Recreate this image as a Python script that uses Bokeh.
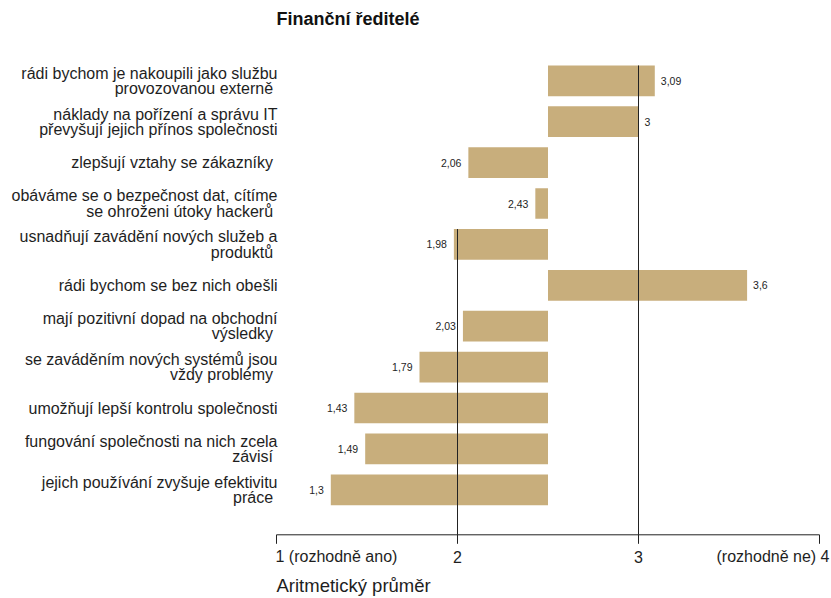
from bokeh.plotting import figure
from bokeh.models import Range1d
from bokeh.core.properties import value
from bokeh.embed import file_html
from bokeh.resources import INLINE

# ---- data ----
title_text = "Finanční ředitelé"
categories = [
    "rádi bychom je nakoupili jako službu\nprovozovanou externě ",
    "náklady na pořízení a správu IT\npřevyšují jejich přínos společnosti",
    "zlepšují vztahy se zákazníky ",
    "obáváme se o bezpečnost dat, cítíme\nse ohroženi útoky hackerů ",
    "usnadňují zavádění nových služeb a\nproduktů ",
    "rádi bychom se bez nich obešli",
    "mají pozitivní dopad na obchodní\nvýsledky ",
    "se zaváděním nových systémů jsou\nvždy problémy ",
    "umožňují lepší kontrolu společnosti",
    "fungování společnosti na nich zcela\nzávisí ",
    "jejich používání zvyšuje efektivitu\npráce ",
]
values = [3.09, 3.0, 2.06, 2.43, 1.98, 3.6, 2.03, 1.79, 1.43, 1.49, 1.3]
midpoint = 2.5
tick_values = [1, 2, 3, 4]
tick_labels = ["1 (rozhodně ano)", "2", "3", "(rozhodně ne) 4"]
axis_title = "Aritmetický průměr"
ref_lines_x = [3, 2]          # vertical reference lines
ref_lines_from = [0, 4]       # category index where each line starts

# ---- layout / style ----
BAR = "#c8ae7c"
TXT = "#1e1e1e"
LINE = "#222222"
FONT = value("Liberation Sans")
W, H = 831, 598
PX = 181.0    # pixels per x unit
PY = 40.9     # pixels per category band
n = len(categories)
ys = [n - 1 - i for i in range(n)]
bar_h = 0.75

# frame spans the whole canvas; ranges chosen so x=1 sits at 276px, first bar at 80px
x_lo = 1 - 276 / PX
x_hi = x_lo + W / PX
y_hi = (n - 1) + 80.3 / PY
y_lo = y_hi - H / PY
y_axis = y_hi - 534.3 / PY
tick_len = 9 / PY

p = figure(width=W, height=H, output_backend="svg", toolbar_location=None,
           x_range=Range1d(x_lo, x_hi), y_range=Range1d(y_lo, y_hi),
           min_border=0, x_axis_location=None, y_axis_location=None)
p.outline_line_color = None
p.xgrid.visible = False
p.ygrid.visible = False
p.background_fill_color = "white"
p.border_fill_color = "white"

# bars
p.hbar(y=ys, left=midpoint, right=values, height=bar_h,
       fill_color=BAR, line_color=None)

# reference lines
p.segment(x0=ref_lines_x, x1=ref_lines_x,
          y0=[ys[i] + bar_h / 2 for i in ref_lines_from],
          y1=[y_axis] * len(ref_lines_x),
          line_color=LINE, line_width=1)

# x axis line and ticks
p.segment(x0=[tick_values[0]], x1=[tick_values[-1]], y0=[y_axis], y1=[y_axis],
          line_color=LINE, line_width=1)
p.segment(x0=tick_values, x1=tick_values, y0=[y_axis] * len(tick_values),
          y1=[y_axis - tick_len] * len(tick_values), line_color=LINE, line_width=1)

# category labels
p.text(x=[tick_values[0]] * n, y=ys, text=categories, x_offset=1,
       text_align="right", text_baseline="middle", text_font=FONT,
       text_font_size="16px", text_color=TXT, text_line_height=0.9)

# value labels
fmt = lambda v: f"{v:g}".replace(".", ",")
pos = [(v, y) for v, y in zip(values, ys) if v >= midpoint]
neg = [(v, y) for v, y in zip(values, ys) if v < midpoint]
p.text(x=[v for v, _ in pos], y=[y for _, y in pos], text=[fmt(v) for v, _ in pos],
       x_offset=6, text_align="left", text_baseline="middle",
       text_font=FONT, text_font_size="10.5px", text_color=TXT)
p.text(x=[v for v, _ in neg], y=[y for _, y in neg], text=[fmt(v) for v, _ in neg],
       x_offset=-7, text_align="right", text_baseline="middle",
       text_font=FONT, text_font_size="10.5px", text_color=TXT)

# tick labels
tick_y = y_hi - 556 / PY
aligns = ["left"] + ["center"] * (len(tick_values) - 2) + ["right"]
offsets = [-1] + [0] * (len(tick_values) - 2) + [10]
p.text(x=tick_values, y=[tick_y] * len(tick_values), text=tick_labels,
       x_offset=offsets, text_align=aligns, text_baseline="middle",
       text_font=FONT, text_font_size="16px", text_color=TXT)

# axis title
p.text(x=[tick_values[0]], y=[y_hi - 585 / PY], text=[axis_title],
       text_align="left", text_baseline="middle", text_font=FONT,
       text_font_size="18.5px", text_color=TXT)

# chart title
p.text(x=[tick_values[0]], y=[y_hi - 18 / PY], text=[title_text],
       text_align="left", text_baseline="middle", text_font=FONT,
       text_font_size="18px", text_font_style="bold", text_color="#111111")

open("out.html", "w").write(file_html(p, INLINE))
